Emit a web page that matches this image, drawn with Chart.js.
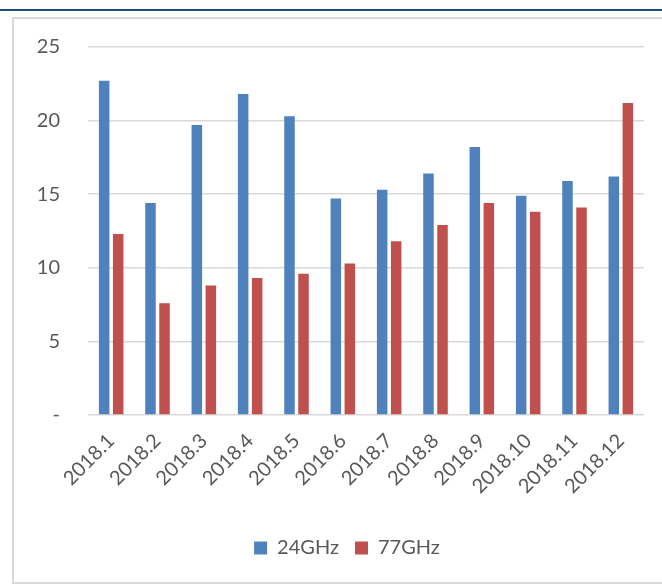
<!DOCTYPE html>
<html>
<head>
<meta charset="utf-8">
<script src="https://cdn.jsdelivr.net/npm/chart.js@4/dist/chart.umd.min.js"></script>
<style>
    html, body { margin: 0; padding: 0; background: #fff; overflow: hidden; }
    #topline { position: absolute; left: 0; top: 9px; width: 662px; height: 2px; background: #1f4e79; }
    #frame { position: absolute; left: 12px; top: 17px; width: 700px; height: 563px; border: 2px solid #d9d9d9; border-right: none; }
    #box { position: absolute; left: 0; top: 0; width: 666px; height: 563px; }
</style>
</head>
<body>
<div id="topline"></div>
<div id="frame">
    <div id="box"><canvas id="radarChart"></canvas></div>
</div>
<script>
var months = ['2018.1', '2018.2', '2018.3', '2018.4', '2018.5', '2018.6',
              '2018.7', '2018.8', '2018.9', '2018.10', '2018.11', '2018.12'];
var ghz24 = [22.7, 14.4, 19.7, 21.8, 20.3, 14.7, 15.3, 16.4, 18.2, 14.9, 15.9, 16.2];
var ghz77 = [12.3, 7.6, 8.8, 9.3, 9.6, 10.3, 11.8, 12.9, 14.4, 13.8, 14.1, 21.2];
var yTicks = [0, 5, 10, 15, 20, 25];

var textColor = '#595959';
var gridColor = '#d9d9d9';

Chart.defaults.font.family = 'Lato';
Chart.defaults.font.size = 20;
Chart.defaults.color = textColor;

function createChart() {
    var ctx = document.getElementById('radarChart').getContext('2d');
    return new Chart(ctx, {
        type: 'bar',
        data: {
            labels: months,
            datasets: [{
                label: '24GHz',
                data: ghz24,
                backgroundColor: '#4f81bd',
                borderWidth: 0
            }, {
                label: '77GHz',
                data: ghz77,
                backgroundColor: '#c0504d',
                borderWidth: 0
            }]
        },
        options: {
            responsive: true,
            maintainAspectRatio: false,
            animation: false,
            datasets: {
                bar: {
                    categoryPercentage: 0.605,
                    barPercentage: 0.75
                }
            },
            layout: {
                padding: { top: 28, left: 0, right: 0, bottom: 14 }
            },
            plugins: {
                legend: {
                    position: 'bottom',
                    labels: {
                        boxWidth: 13,
                        boxHeight: 13,
                        padding: 16,
                        color: textColor,
                        font: { size: 20 }
                    }
                },
                tooltip: { enabled: false }
            },
            scales: {
                x: {
                    grid: { display: false },
                    border: { display: false },
                    ticks: {
                        maxRotation: 45,
                        minRotation: 45,
                        autoSkip: false,
                        padding: 6,
                        color: textColor
                    },
                    afterFit: function (scale) {
                        scale.height = 107;
                        scale.paddingRight = 36;
                    }
                },
                y: {
                    min: 0,
                    max: 25,
                    border: { display: false },
                    grid: {
                        color: gridColor,
                        lineWidth: 1.5,
                        drawTicks: false
                    },
                    ticks: {
                        stepSize: 5,
                        padding: 28,
                        color: textColor,
                        callback: function (v) {
                            return yTicks.indexOf(v) == 0 ? '-' : v;
                        }
                    },
                    afterFit: function (scale) {
                        scale.width = 74;
                        scale.paddingTop = 0;
                        scale.paddingBottom = 0;
                    }
                }
            }
        }
    });
}

var chart = createChart();
</script>
</body>
</html>
